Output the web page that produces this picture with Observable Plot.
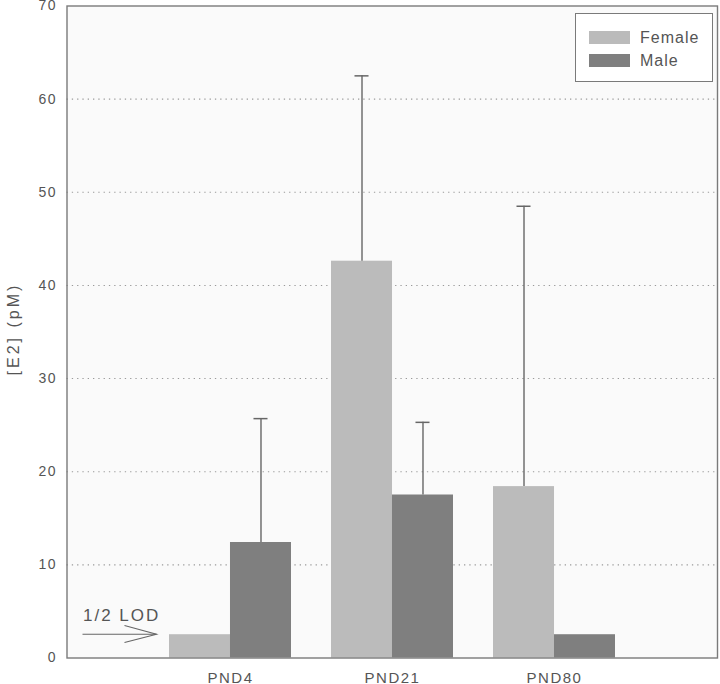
<!DOCTYPE html>
<html>
<head>
<meta charset="utf-8">
<script src="https://cdn.jsdelivr.net/npm/d3@7"></script>
<script src="https://cdn.jsdelivr.net/npm/@observablehq/plot@0.6"></script>
<style>
  html, body { margin: 0; padding: 0; background: #ffffff; }
  #wrap { position: relative; width: 720px; height: 684px; overflow: hidden; font-family: "Liberation Sans", Arial, Helvetica, sans-serif; }
  #legend { position: absolute; left: 575px; top: 13px; width: 138px; height: 69px; border: 1px solid #7a7a7a; background: #ffffff; box-sizing: border-box; }
  .lg-row { position: absolute; left: 13px; height: 13px; display: flex; align-items: center; }
  .lg-sw { width: 41px; height: 13px; }
  .lg-tx { margin-left: 10px; font-size: 16px; letter-spacing: 1px; color: #555; line-height: 13px; }
</style>
</head>
<body>
<div id="wrap"></div>
<script>
// ---- data ----
const categories = ["PND4", "PND21", "PND80"];
const sexes = ["Female", "Male"];
const sexColors = ["#bbbbbb", "#7f7f7f"];
const femaleMean = [2.5, 42.6, 18.4];
const maleMean = [12.4, 17.5, 2.5];
const femaleUpper = [null, 62.5, 48.5];
const maleUpper = [25.7, 25.3, null];
const yTicks = [0, 10, 20, 30, 40, 50, 60, 70];
const gridTicks = [10, 20, 30, 40, 50, 60];
const yLabel = "[E2] (pM)";
const lodLabel = "1/2 LOD";
const lodValue = 2.5;

const rows = categories.flatMap((c, i) => [
  {category: c, sex: "Female", mean: femaleMean[i], upper: femaleUpper[i]},
  {category: c, sex: "Male", mean: maleMean[i], upper: maleUpper[i]}
]);
const female = rows.filter(d => d.sex === "Female");
const male = rows.filter(d => d.sex === "Male");
const femaleErr = female.filter(d => d.upper != null);
const maleErr = male.filter(d => d.upper != null);

// ---- layout ----
const W = 720, H = 684;
const mL = 66.5, mR = 3, mT = 5.5, mB = 26.5;
const pInner = 0.25, pOuter = 0.625;
const step = (W - mL - mR) / (categories.length - pInner + 2 * pOuter);
const bw = step * (1 - pInner);
const half = bw / 2;
const capW = 14;

const font = "'Liberation Sans', Arial, Helvetica, sans-serif";

const plot = Plot.plot({
  width: W,
  height: H,
  marginLeft: mL,
  marginRight: mR,
  marginTop: mT,
  marginBottom: mB,
  style: {fontFamily: font, background: "transparent", overflow: "hidden"},
  x: {domain: categories, paddingInner: pInner, paddingOuter: pOuter, label: null},
  y: {domain: [0, 70], label: null},
  marks: [
    Plot.frame({fill: "#fafafa", stroke: "none"}),
    Plot.ruleY(gridTicks, {stroke: "#9a9a9a", strokeWidth: 1.1, strokeDasharray: "1.3,4"}),
    Plot.barY(female, {x: "category", y: "mean", fill: sexColors[0], insetRight: half}),
    Plot.barY(male, {x: "category", y: "mean", fill: sexColors[1], insetLeft: half}),
    Plot.ruleX(femaleErr, {x: "category", y1: "mean", y2: "upper", dx: -half / 2, stroke: "#666", strokeWidth: 1.4}),
    Plot.ruleX(maleErr, {x: "category", y1: "mean", y2: "upper", dx: half / 2, stroke: "#666", strokeWidth: 1.4}),
    Plot.tickY(femaleErr, {x: "category", y: "upper", insetLeft: half / 2 - capW / 2, insetRight: half + half / 2 - capW / 2, stroke: "#666", strokeWidth: 1.5}),
    Plot.tickY(maleErr, {x: "category", y: "upper", insetLeft: half + half / 2 - capW / 2, insetRight: half / 2 - capW / 2, stroke: "#666", strokeWidth: 1.5}),
    Plot.axisY(yTicks, {tickSize: 0, tickPadding: 10, fontSize: 14, fill: "#555", label: null}),
    Plot.axisX(categories, {tickSize: 0, tickPadding: 14, fontSize: 15, fill: "#555", label: null}),
    Plot.text([yLabel], {frameAnchor: "left", text: d => d, rotate: -90, textAnchor: "middle", lineAnchor: "middle", dx: -53, dy: -3, fontSize: 16, fill: "#555", className: "ylab"}),
    Plot.text([lodLabel], {frameAnchor: "bottom-left", text: d => d, textAnchor: "start", lineAnchor: "bottom", dx: 16, dy: -37, fontSize: 17, fill: "#555", className: "lod"}),
    Plot.frame({stroke: "#7a7a7a", strokeWidth: 1.4})
  ]
});

// letter spacing on texts
d3.select(plot).selectAll("text").style("letter-spacing", "1.5px");
d3.select(plot).selectAll(".ylab text").style("letter-spacing", "3px");
d3.select(plot).selectAll(".lod text").style("letter-spacing", "2px");

// 1/2 LOD arrow, positioned from the y scale
const ys = plot.scale("y");
const ay = ys.apply(lodValue);
const x0 = mL + 16, x1 = mL + 90;
const g = d3.select(plot).append("g").attr("fill", "none").attr("stroke", "#666").attr("stroke-width", 1.1);
g.append("line").attr("x1", x0).attr("x2", x1).attr("y1", ay).attr("y2", ay);
g.append("path").attr("d", `M${x1 - 32},${ay - 8.7}L${x1},${ay}L${x1 - 32},${ay + 8.3}`);

document.getElementById("wrap").appendChild(plot);

// legend overlay
const legend = document.createElement("div");
legend.id = "legend";
sexes.forEach((s, i) => {
  const row = document.createElement("div");
  row.className = "lg-row";
  row.style.top = (17 + i * 22.6) + "px";
  row.innerHTML = `<div class="lg-sw" style="background:${sexColors[i]}"></div><div class="lg-tx">${s}</div>`;
  legend.appendChild(row);
});
document.getElementById("wrap").appendChild(legend);
</script>
</body>
</html>
